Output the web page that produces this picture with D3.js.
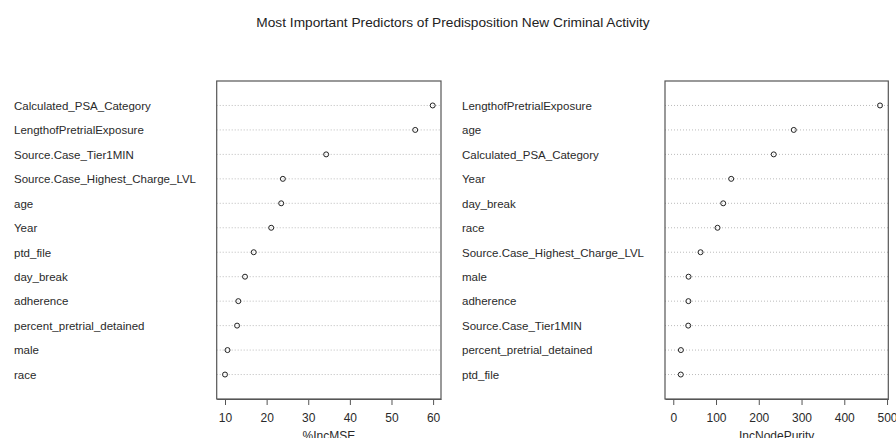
<!DOCTYPE html>
<html>
<head>
<meta charset="utf-8">
<script src="https://cdn.jsdelivr.net/npm/d3@7"></script>
<style>
  body { margin: 0; background: #fff; }
  svg { font-family: "Liberation Sans", Arial, sans-serif; }
</style>
</head>
<body>
<svg id="canvas" width="896" height="438"></svg>
<script>
// left panel: %IncMSE, top to bottom
const mseNames = ['Calculated_PSA_Category', 'LengthofPretrialExposure', 'Source.Case_Tier1MIN',
  'Source.Case_Highest_Charge_LVL', 'age', 'Year', 'ptd_file', 'day_break', 'adherence',
  'percent_pretrial_detained', 'male', 'race'];
const mseValues = [59.9, 55.7, 34.3, 23.9, 23.5, 21.1, 16.9, 14.8, 13.2, 12.9, 10.6, 10.0];
const mseTicks = [10, 20, 30, 40, 50, 60];

// right panel: IncNodePurity, top to bottom
const purityNames = ['LengthofPretrialExposure', 'age', 'Calculated_PSA_Category', 'Year',
  'day_break', 'race', 'Source.Case_Highest_Charge_LVL', 'male', 'adherence',
  'Source.Case_Tier1MIN', 'percent_pretrial_detained', 'ptd_file'];
const purityValues = [483.6, 281.8, 235.0, 135.5, 116.8, 103.5, 63.8, 35.7, 35.4, 35.0, 17.8, 17.6];
const purityTicks = [0, 100, 200, 300, 400, 500];

const svg = d3.select('#canvas');

svg.append('text')
  .attr('x', 453).attr('y', 27)
  .attr('text-anchor', 'middle')
  .attr('font-size', 13.7)
  .attr('fill', '#222')
  .text('Most Important Predictors of Predisposition New Criminal Activity');

// draws one dotchart panel like R's dotchart
let drawPanel = (names, values, ticks, xmin, title, labelX, box) => {
  const n = values.length;
  const lo = xmin, hi = d3.max(values);
  const pad = (hi - lo) * 0.04;
  const x = d3.scaleLinear().domain([lo - pad, hi + pad]).range([box.left, box.right]);
  const y = d3.scaleLinear().domain([0, n + 1]).range([box.bottom, box.top]);
  // row index: top row is n
  const rowY = (i) => y(n - i);

  const g = svg.append('g');

  g.selectAll('line.grid')
    .data(values)
    .enter()
    .append('line')
    .attr('class', 'grid')
    .attr('x1', box.left).attr('x2', box.right)
    .attr('y1', (d, i) => rowY(i)).attr('y2', (d, i) => rowY(i))
    .attr('stroke', '#bbb')
    .attr('stroke-width', 1)
    .attr('stroke-dasharray', '1,2');

  g.selectAll('text.name')
    .data(names)
    .enter()
    .append('text')
    .attr('class', 'name')
    .attr('x', labelX)
    .attr('y', (d, i) => rowY(i) + 4.3)
    .attr('font-size', 11.5)
    .attr('fill', '#2a2a2a')
    .text(d => d);

  g.selectAll('circle')
    .data(values)
    .enter()
    .append('circle')
    .attr('cx', d => x(d))
    .attr('cy', (d, i) => rowY(i))
    .attr('r', 2.5)
    .attr('fill', 'none')
    .attr('stroke', '#222')
    .attr('stroke-width', 1);

  g.append('rect')
    .attr('x', box.left).attr('y', box.top)
    .attr('width', box.right - box.left)
    .attr('height', box.bottom - box.top)
    .attr('fill', 'none')
    .attr('stroke', '#555')
    .attr('stroke-width', 1.2);

  const axis = d3.axisBottom(x).tickValues(ticks).tickSize(6).tickPadding(8.5).tickSizeOuter(0);
  const ag = g.append('g')
    .attr('transform', `translate(0,${box.bottom})`)
    .call(axis);
  ag.select('.domain').attr('stroke', '#555');
  ag.selectAll('.tick line').attr('stroke', '#555');
  ag.selectAll('.tick text')
    .attr('font-size', 12)
    .attr('font-family', '"Liberation Sans", Arial, sans-serif')
    .attr('fill', '#2a2a2a');

  g.append('text')
    .attr('x', (box.left + box.right) / 2)
    .attr('y', 440)
    .attr('text-anchor', 'middle')
    .attr('font-size', 12)
    .attr('fill', '#2a2a2a')
    .text(title);
};

drawPanel(mseNames, mseValues, mseTicks, d3.min(mseValues), '%IncMSE', 14,
  {left: 216.7, right: 441, top: 81, bottom: 399});
drawPanel(purityNames, purityValues, purityTicks, 0, 'IncNodePurity', 462,
  {left: 665, right: 888.3, top: 81, bottom: 399});
</script>
</body>
</html>
